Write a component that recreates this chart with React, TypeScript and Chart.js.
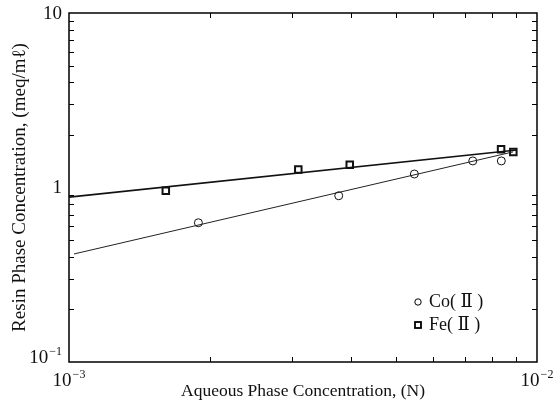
import React, { useEffect, useRef } from "react";
import { Chart, registerables } from "chart.js";
Chart.register(...registerables);

const coX = [1.89e-3, 3.77e-3, 5.47e-3, 7.29e-3, 8.39e-3];
const coY = [0.628, 0.897, 1.195, 1.42, 1.42];
const feX = [1.61e-3, 3.09e-3, 3.98e-3, 8.38e-3, 8.9e-3];
const feY = [0.959, 1.27, 1.35, 1.656, 1.6];
// Fitted lines (end points)
const coFitX = [1.025e-3, 8.89e-3];
const coFitY = [0.416, 1.6];
const feFitX = [1.0e-3, 9.06e-3];
const feFitY = [0.88, 1.64];
// Axis ticks
const xTickValues = [1e-3, 1e-2];
const xTickBases = ["10", "10"];
const xTickExps = ["−3", "−2"];
const yTickValues = [0.1, 1, 10];
const yTickBases = ["10", "1", "10"];
const yTickExps = ["−1", "", ""];
const legendLabels = ["Co( Ⅱ )", "Fe( Ⅱ )"];
const xTitle = "Aqueous Phase Concentration, (N)";
const yTitle = "Resin Phase Concentration, (meq/mℓ)";

const SERIF = '"Liberation Serif", "DejaVu Serif", "Noto Sans CJK JP", serif';

const toPts = (xs: number[], ys: number[]) => xs.map((x, i) => ({ x, y: ys[i] }));

function drawPow(ctx: CanvasRenderingContext2D, base: string, exp: string, x: number, y: number, align: "center" | "right") {
  ctx.font = `19px ${SERIF}`;
  const wb = ctx.measureText(base).width;
  ctx.font = `12px ${SERIF}`;
  const we = exp ? ctx.measureText(exp).width + 1 : 0;
  const total = wb + we;
  const x0 = align === "center" ? x - total / 2 : x - total;
  ctx.textAlign = "left";
  ctx.textBaseline = "middle";
  ctx.font = `19px ${SERIF}`;
  ctx.fillText(base, x0, y);
  if (exp) {
    ctx.font = `12px ${SERIF}`;
    ctx.fillText(exp, x0 + wb + 1, y - 6);
  }
}

const framePlugin = {
  id: "framePlugin",
  afterDraw(chart: any) {
    const { ctx, chartArea } = chart;
    const { left, right, top, bottom } = chartArea;
    const xs = chart.scales.x;
    const ys = chart.scales.y;
    ctx.save();
    ctx.strokeStyle = "#000";
    ctx.fillStyle = "#111";
    ctx.lineWidth = 1.5;
    ctx.strokeRect(left, top, right - left, bottom - top);
    ctx.lineWidth = 1;
    ctx.beginPath();
    for (let m = 2; m <= 9; m++) {
      const px = Math.round(xs.getPixelForValue(m * 1e-3)) + 0.5;
      ctx.moveTo(px, bottom);
      ctx.lineTo(px, bottom - 5);
      ctx.moveTo(px, top);
      ctx.lineTo(px, top + 5);
    }
    for (const d of [0.1, 1]) {
      for (let m = 2; m <= 9; m++) {
        const py = Math.round(ys.getPixelForValue(m * d)) + 0.5;
        ctx.moveTo(left, py);
        ctx.lineTo(left + 5, py);
        ctx.moveTo(right, py);
        ctx.lineTo(right - 5, py);
      }
    }
    ctx.stroke();

    // tick labels
    xTickValues.forEach((v, i) => {
      const px = xs.getPixelForValue(v);
      drawPow(ctx, xTickBases[i], xTickExps[i], px, 381, "center");
    });
    yTickValues.forEach((v, i) => {
      const py = Math.min(ys.getPixelForValue(v) + 1, bottom - 4);
      drawPow(ctx, yTickBases[i], yTickExps[i], left - 7, py, "right");
    });

    // axis titles
    ctx.font = `17.5px ${SERIF}`;
    ctx.textAlign = "center";
    ctx.textBaseline = "middle";
    ctx.fillText(xTitle, (left + right) / 2, 391);
    ctx.save();
    ctx.font = `19px ${SERIF}`;
    ctx.translate(20, (top + bottom) / 2);
    ctx.rotate(-Math.PI / 2);
    ctx.fillText(yTitle, 0, 0);
    ctx.restore();

    // legend
    const lx = 418;
    const ly = [302, 325];
    ctx.lineWidth = 1;
    ctx.beginPath();
    ctx.arc(lx, ly[0], 3.2, 0, Math.PI * 2);
    ctx.stroke();
    ctx.lineWidth = 1.8;
    ctx.strokeRect(lx - 3, ly[1] - 3, 6, 6);
    ctx.font = `18px ${SERIF}`;
    ctx.textAlign = "left";
    ctx.textBaseline = "middle";
    ctx.fillText(legendLabels[0], 429, ly[0]);
    ctx.fillText(legendLabels[1], 429, ly[1]);
    ctx.restore();
  },
};

export default function App() {
  const ref = useRef<HTMLCanvasElement | null>(null);
  useEffect(() => {
    document.body.style.margin = "0";
    const canvas = ref.current;
    if (!canvas) return;
    const chart = new Chart(canvas, {
      type: "scatter",
      data: {
        datasets: [
          {
            label: "Co fit",
            data: toPts(coFitX, coFitY),
            showLine: true,
            borderColor: "#222",
            borderWidth: 1,
            pointRadius: 0,
          },
          {
            label: "Fe fit",
            data: toPts(feFitX, feFitY),
            showLine: true,
            borderColor: "#111",
            borderWidth: 1.7,
            pointRadius: 0,
          },
          {
            label: legendLabels[0],
            data: toPts(coX, coY),
            pointStyle: "circle",
            pointRadius: 4,
            borderWidth: 1,
            borderColor: "#111",
            backgroundColor: "#fff",
          },
          {
            label: legendLabels[1],
            data: toPts(feX, feY),
            pointStyle: "rect",
            pointRadius: 4.6,
            borderWidth: 2,
            borderColor: "#111",
            backgroundColor: "#fff",
          },
        ],
      },
      options: {
        responsive: false,
        animation: false,
        layout: { padding: { left: 69, right: 21, top: 13, bottom: 41 } },
        plugins: { legend: { display: false }, tooltip: { enabled: false } },
        scales: {
          x: { type: "logarithmic", min: 1e-3, max: 1e-2, display: false },
          y: { type: "logarithmic", min: 0.1, max: 10, display: false },
        },
      },
      plugins: [framePlugin],
    });
    return () => chart.destroy();
  }, []);
  return (
    <div style={{ width: 558, height: 403, background: "#fff" }}>
      <canvas ref={ref} width={558} height={403} />
    </div>
  );
}
